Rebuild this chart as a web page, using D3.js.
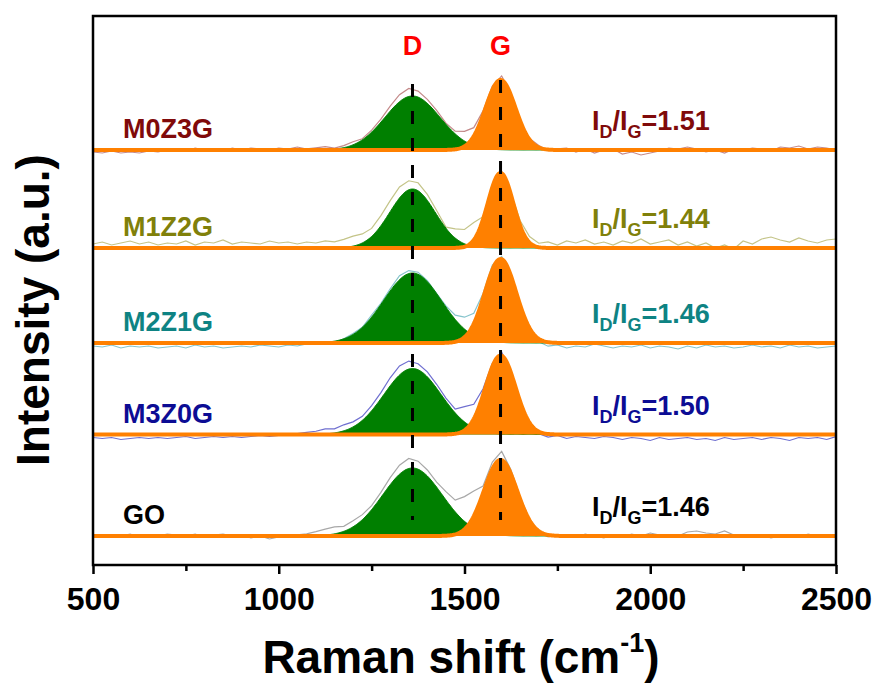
<!DOCTYPE html>
<html><head><meta charset="utf-8">
<script src="https://cdn.jsdelivr.net/npm/d3@7"></script>
<style>body{margin:0;background:#fff}text{font-family:"Liberation Sans",Arial,Helvetica,sans-serif;font-weight:bold}</style></head>
<body><svg id="c" width="880" height="684"></svg>
<script>
// ---------- data ----------
const samples   = ["GO", "M3Z0G", "M2Z1G", "M1Z2G", "M0Z3G"];
const ratios    = ["1.46", "1.50", "1.46", "1.44", "1.51"];
const offsets   = [29, 130.5, 222, 317, 415];        // stacking offset (a.u.)
const dCenter   = [1360, 1360, 1360, 1360, 1360];
const dHeight   = [68, 66, 70, 59, 54];
const dSigma    = [80, 77, 78, 61, 74];
const gCenter   = [1597, 1597, 1597, 1597, 1597];
const gHeight   = [76, 79, 84, 75, 70];
const gSigma    = [44, 40, 42, 34, 40];
const peakNames = ["D", "G"];
const peakPos   = [1360, 1597];
const xTicks    = [500, 1000, 1500, 2000, 2500];
const xMinor    = [750, 1250, 1750, 2250];
// raw spectrum minus fit, read every 25 cm-1 from 500 to 2500
const resGO = [0,-1,1,0,2,-1,1,0, 2,1,0,2,-1,1,2,0, 1,-2,0,-3,-1,0,1,2, 4,6,7,5,6,5,4,5,
  7,9,10,8,6,5,8,10, 18,17,3,5,8,4,2,1, 0,-2,1,0,-1,2,0,-2, 1,-1,2,0,3,1,-1,0, 4,5,3,2,5,1,-1,0, 1,-2,0,1,-1,2,0,1,0];
const resM3Z0G = [-3,-4,-3,-5,-4,-3,-4,-3, -4,-3,-2,-4,-3,-2,-3,-2, -3,-2,-1,-2,-1,0,1,2, 3,5,4,6,5,4,5,6,
  8,9,8,6,5,4,3,3, 11,8,3,2,3,1,0,-1, -2,-3,-1,-4,-2,-3,-4,-2, -3,-5,-3,-4,-6,-3,-5,-4, -3,-5,-4,-6,-3,-5,-4,-3, -5,-3,-4,-6,-3,-4,-3,-5,-2];
const resM2Z1G = [-3,-4,-2,-5,-3,-4,-3,-5, -4,-3,-5,-2,-4,-3,-5,-4, -3,-4,-2,-3,-4,-2,-3,-1, -1,0,-2,0,1,0,2,1,
  2,4,3,2,1,0,1,3, 6,3,1,3,2,0,-1,-2, -3,-4,-2,-5,-3,-4,-1,-3, -5,-3,-4,-2,-5,-3,-4,-6, -3,-5,-2,-4,-3,-5,-4,-2, -4,-3,-5,-2,-4,-3,-5,-4,-3];
const resM1Z2G = [4,6,3,5,7,4,6,3, 5,4,7,3,6,5,8,4, 6,5,4,7,5,6,4,6, 5,7,6,8,10,9,8,10,
  11,11,9,8,6,4,1,9, 13,16,2,3,2,1,5,6, 4,6,3,7,5,8,4,6, 3,7,5,9,4,6,8,3, 6,2,5,0,3,-1,7,4, 9,11,8,6,10,7,5,8,9];
const resM0Z3G = [-2,-3,-1,-3,-2,-3,-1,-2, 0,1,-1,2,0,1,-1,2, 0,2,1,0,2,1,3,1, 2,3,1,2,3,1,2,3,
  5,7,8,6,4,3,1,2, 6,4,2,3,4,2,0,1, 2,-1,1,2,-2,1,-3,0, 1,-4,-2,-5,-3,-1,2,1, 3,1,-2,0,-3,1,0,2, 1,-1,3,2,4,1,3,2,0];
const residuals = [resGO, resM3Z0G, resM2Z1G, resM1Z2G, resM0Z3G];

// ---------- style ----------
const textColors = ["#000000", "#0c0c94", "#0e8383", "#80800a", "#800a0a"];
const rawColors  = ["#a8a8a8", "#6f6fd0", "#86c4cc", "#c4c488", "#c48a8a"];
const greenFill = "#007f00", orangeFill = "#ff8000";

const svg = d3.select("#c");
const x = d3.scaleLinear().domain([500, 2500]).range([93, 836]);
const y = d3.scaleLinear().domain([0, 549]).range([565, 16]);

svg.append("defs").append("clipPath").attr("id", "clip")
  .append("rect").attr("x", x(500)).attr("y", y(549)).attr("width", x(2500) - x(500)).attr("height", y(0) - y(549));

const gauss = (w, c, h, s) => h * Math.exp(-((w - c) * (w - c)) / (2 * s * s));
const grid = d3.range(500, 2500.1, 2.5);
const rawGrid = d3.range(500, 2500.1, 25);

const plot = svg.append("g").attr("clip-path", "url(#clip)");

samples.forEach((name, i) => {
  const off = offsets[i];
  const fitD = w => gauss(w, dCenter[i], dHeight[i], dSigma[i]);
  const fitG = w => gauss(w, gCenter[i], gHeight[i], gSigma[i]);
  const g = plot.append("g");
  // raw spectrum
  const raw = rawGrid.map((w, k) => [w, off + fitD(w) + fitG(w) + residuals[i][k]]);
  g.append("path").datum(raw)
    .attr("d", d3.line().x(d => x(d[0])).y(d => y(d[1])))
    .attr("fill", "none").attr("stroke", rawColors[i]).attr("stroke-width", 1.2);
  // D fit
  g.append("path").datum(grid)
    .attr("d", d3.area().x(w => x(w)).y0(y(off)).y1(w => y(off + fitD(w))))
    .attr("fill", greenFill);
  g.append("path").datum(grid)
    .attr("d", d3.line().x(w => x(w)).y(w => y(off + fitD(w))))
    .attr("fill", "none").attr("stroke", greenFill).attr("stroke-width", 1);
  // G fit
  g.append("path").datum(grid)
    .attr("d", d3.area().x(w => x(w)).y0(y(off)).y1(w => y(off + fitG(w))))
    .attr("fill", orangeFill);
  g.append("path").datum(grid)
    .attr("d", d3.line().x(w => x(w)).y(w => y(off + fitG(w))))
    .attr("fill", "none").attr("stroke", orangeFill).attr("stroke-width", 4);
});

// labels
samples.forEach((name, i) => {
  svg.append("text").attr("x", x(581)).attr("y", y(offsets[i]) - 12)
    .attr("fill", textColors[i]).attr("font-size", 27).text(name);
  const t = svg.append("text").attr("x", x(1843)).attr("y", y(offsets[i]) - 20)
    .attr("fill", textColors[i]).attr("font-size", 27);
  t.append("tspan").text("I");
  t.append("tspan").attr("font-size", 18).attr("dy", 8).text("D");
  t.append("tspan").attr("dy", -8).text("/I");
  t.append("tspan").attr("font-size", 18).attr("dy", 8).text("G");
  t.append("tspan").attr("dy", -8).text("=" + ratios[i]);
});

// dashed peak lines
peakPos.forEach((p, j) => {
  svg.append("line").attr("x1", x(p)).attr("x2", x(p))
    .attr("y1", y(j === 0 ? 481 : 485)).attr("y2", y(45))
    .attr("stroke", "#000").attr("stroke-width", 3).attr("stroke-dasharray", "13,14");
  svg.append("text").attr("x", x(p)).attr("y", 55).attr("text-anchor", "middle")
    .attr("fill", "#ff0000").attr("font-size", 27).text(peakNames[j]);
});

// axes
const ax = svg.append("g").attr("transform", `translate(0,${y(0)})`)
  .call(d3.axisBottom(x).tickValues(xTicks).tickSize(9).tickFormat(d3.format("d")));
ax.select(".domain").remove();
ax.selectAll("line").attr("stroke-width", 2.5);
ax.selectAll("text").attr("font-size", 32).attr("y", 22).attr("fill", "#000")
  .style("font-family", '"Liberation Sans",Arial,sans-serif').style("font-weight", "bold");
const axm = svg.append("g").attr("transform", `translate(0,${y(0)})`)
  .call(d3.axisBottom(x).tickValues(xMinor).tickSize(6).tickFormat(""));
axm.select(".domain").remove();
axm.selectAll("line").attr("stroke-width", 2.5);

svg.append("rect").attr("x", x(500)).attr("y", y(549)).attr("width", x(2500) - x(500)).attr("height", y(0) - y(549))
  .attr("fill", "none").attr("stroke", "#000").attr("stroke-width", 2.5);

// titles
const xt = svg.append("text").attr("x", 461).attr("y", 673).attr("text-anchor", "middle").attr("font-size", 46);
xt.append("tspan").text("Raman shift (cm");
xt.append("tspan").attr("font-size", 27).attr("dy", -21).text("-1");
xt.append("tspan").attr("dy", 21).text(")");
svg.append("text").attr("transform", "translate(49,310) rotate(-90)").attr("text-anchor", "middle")
  .attr("font-size", 46).text("Intensity (a.u.)");
</script></body></html>
